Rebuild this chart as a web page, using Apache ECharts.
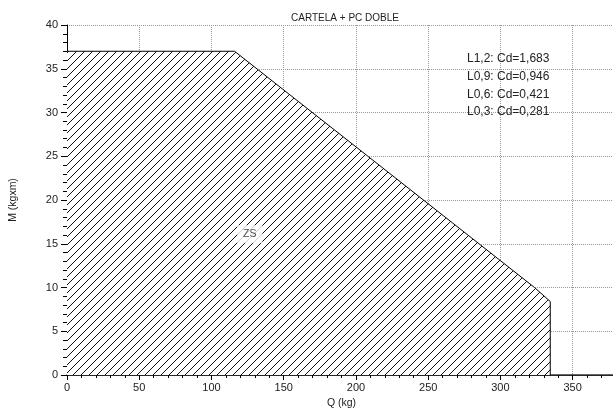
<!DOCTYPE html>
<html>
<head>
<meta charset="utf-8">
<script src="https://cdn.jsdelivr.net/npm/echarts@6/dist/echarts.min.js"></script>
<style>html,body{margin:0;padding:0;background:#fff;}#c{width:613px;height:411px;}</style>
</head>
<body>
<div id="c"></div>
<script>
// ---- data ----
const titleText = 'CARTELA + PC DOBLE';
const xName = 'Q (kg)';
const yName = 'M (kgxm)';
const qVals = [0, 116, 323.6, 334.5, 334.5];
const mVals = [37, 37, 10, 8.4, 0];
const zoneLabel = 'ZS';
const zonePos = [126.5, 16.1];
const legendLines = ['L1,2: Cd=1,683', 'L0,9: Cd=0,946', 'L0,6: Cd=0,421', 'L0,3: Cd=0,281'];

// hatch pattern tile
const tile = document.createElement('canvas');
tile.width = 8; tile.height = 8;
const tc = tile.getContext('2d');
tc.fillStyle = '#fff'; tc.fillRect(0, 0, 8, 8);
tc.strokeStyle = '#111'; tc.lineWidth = 1;
tc.beginPath();
tc.moveTo(-1, 9); tc.lineTo(9, -1);
tc.moveTo(-1, 1); tc.lineTo(1, -1);
tc.moveTo(7, 9); tc.lineTo(9, 7);
tc.stroke();

const font = '"Liberation Sans", Arial, Helvetica, sans-serif';
const chart = echarts.init(document.getElementById('c'), null, {renderer: 'canvas'});

const lineData = qVals.map((q, i) => [q, mVals[i]]);

chart.setOption({
  animation: false,
  backgroundColor: '#fff',
  textStyle: {fontFamily: font},
  title: {
    text: titleText, left: 340, top: 8, textAlign: 'center',
    textStyle: {fontSize: 10, fontWeight: 'normal', color: '#222', fontFamily: font}
  },
  grid: {left: 67, right: -3, top: 25, bottom: 36, outerBoundsMode: 'none', containLabel: false},
  xAxis: [{
    type: 'value', min: 0, max: 380, interval: 50,
    name: xName, nameLocation: 'middle', nameGap: 23,
    nameTextStyle: {fontSize: 10.5, color: '#222', fontFamily: font},
    axisLine: {show: true, onZero: false, lineStyle: {color: '#000', width: 1}},
    axisTick: {show: true, length: 5, lineStyle: {color: '#000'}},
    minorTick: {show: true, splitNumber: 5, length: 3, lineStyle: {color: '#000'}},
    axisLabel: {fontSize: 11, color: '#222', margin: 7, showMaxLabel: false, fontFamily: font},
    splitLine: {show: true, lineStyle: {color: '#999', type: 'dotted', width: 1}}
  }, {
    type: 'value', position: 'top', min: 0, max: 380,
    axisLine: {show: true, lineStyle: {color: '#333', width: 1.5}},
    axisTick: {show: false}, axisLabel: {show: false}, splitLine: {show: false}
  }],
  yAxis: {
    type: 'value', min: 0, max: 40, interval: 5,
    name: yName, nameLocation: 'middle', nameGap: 48, nameRotate: 90,
    nameTextStyle: {fontSize: 10.5, color: '#222', fontFamily: font},
    axisLine: {show: true, onZero: false, lineStyle: {color: '#000', width: 1}},
    axisTick: {show: true, length: 6, lineStyle: {color: '#000'}},
    minorTick: {show: true, splitNumber: 5, length: 4, lineStyle: {color: '#000'}},
    axisLabel: {fontSize: 11, color: '#222', margin: 9, fontFamily: font},
    splitLine: {show: true, lineStyle: {color: '#999', type: 'dotted', width: 1}}
  },
  series: [{
    type: 'line', data: lineData, showSymbol: false, symbol: 'none',
    lineStyle: {color: '#000', width: 1},
    areaStyle: {color: {image: tile, repeat: 'repeat'}, opacity: 1, origin: 'start'},
    z: 2
  }, {
    type: 'scatter', data: [zonePos], symbolSize: 1, itemStyle: {color: 'rgba(0,0,0,0)'},
    label: {
      show: true, position: 'inside', formatter: zoneLabel,
      fontSize: 10.5, color: '#222', backgroundColor: '#fff', padding: [4, 6, 3, 6], fontFamily: font
    },
    z: 5
  }],
  graphic: legendLines.map((t, i) => ({
    type: 'text', x: 467, y: 59 + i * 17.7, z: 10,
    style: {text: t, font: '12px ' + font, fill: '#222', verticalAlign: 'middle'}
  }))
});
</script>
</body>
</html>
